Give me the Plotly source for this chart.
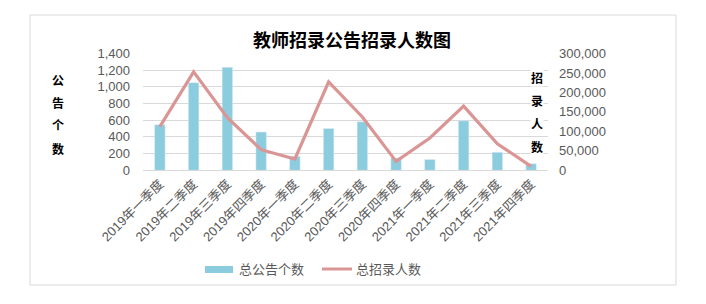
import plotly.graph_objects as go

categories = ["2019年一季度", "2019年二季度", "2019年三季度", "2019年四季度",
              "2020年一季度", "2020年二季度", "2020年三季度", "2020年四季度",
              "2021年一季度", "2021年二季度", "2021年三季度", "2021年四季度"]
notices = [545, 1050, 1235, 458, 167, 501, 582, 148, 128, 593, 215, 80]
hires = [112000, 253000, 135000, 53000, 29000, 227000, 137000, 23000, 83000, 165000, 68000, 10000]

W, H = 706, 304
x0, x1 = 143, 548
y_top, y_bot = 53.5, 170.3

FONT = "Liberation Sans, Noto Sans CJK SC, sans-serif"
CJK = "Noto Sans CJK SC, sans-serif"
BLUE = "#8BCCDE"
RED = "#DA9694"
GRAY = "#595959"

fig = go.Figure()
fig.add_trace(go.Bar(x=categories, y=notices, name="总公告个数", marker_color=BLUE,
                     width=0.31, yaxis="y"))
fig.add_trace(go.Scatter(x=categories, y=hires, name="总招录人数", mode="lines",
                         line=dict(color=RED, width=3.2), yaxis="y2"))

fig.update_layout(
    width=W, height=H,
    margin=dict(l=0, r=0, t=0, b=0, autoexpand=False),
    paper_bgcolor="white", plot_bgcolor="white",
    showlegend=False,
    xaxis=dict(domain=[x0 / W, x1 / W], tickangle=-45, showgrid=False, automargin=False,
               tickfont=dict(family=FONT, size=13, color=GRAY),
               showline=True, linecolor="#D9D9D9", ticks=""),
    yaxis=dict(domain=[1 - y_bot / H, 1 - y_top / H], range=[0, 1400], dtick=200,
               tickformat=",", gridcolor="#D9D9D9", zeroline=False, automargin=False,
               ticklabelstandoff=12,
               tickfont=dict(family=FONT, size=13, color=GRAY), ticks=""),
    yaxis2=dict(overlaying="y", side="right", range=[0, 300000], dtick=50000,
                tickformat=",", showgrid=False, zeroline=False, automargin=False,
                ticklabelstandoff=10,
                tickfont=dict(family=FONT, size=13, color=GRAY), ticks="",
                anchor="x"),
)


def note(text, x, y, size, color, xanchor="center", bg=None):
    fig.add_annotation(text=text, x=x / W, y=1 - y / H, xref="paper", yref="paper",
                       xanchor=xanchor, yanchor="middle", showarrow=False,
                       bgcolor=bg, borderpad=0,
                       font=dict(family=CJK, size=size, color=color))


note("<b>教师招录公告招录人数图</b>", 352, 39, 18, "#000000")

for i, ch in enumerate("公告个数"):
    note("<b>%s</b>" % ch, 58, 79 + 23 * i, 12, "#000000")
for i, ch in enumerate("招录人数"):
    note("<b>%s</b>" % ch, 537, 77 + 23.3 * i, 12, "#000000", bg="white")

# legend
fig.add_shape(type="rect", xref="paper", yref="paper",
              x0=205 / W, x1=233 / W, y0=1 - 273 / H, y1=1 - 266 / H,
              fillcolor=BLUE, line=dict(width=0))
note("总公告个数", 238, 268, 13, GRAY, xanchor="left")
fig.add_shape(type="line", xref="paper", yref="paper",
              x0=322 / W, x1=352 / W, y0=1 - 269 / H, y1=1 - 269 / H,
              line=dict(color=RED, width=3))
note("总招录人数", 355, 268, 13, GRAY, xanchor="left")

fig.add_shape(type="rect", xref="paper", yref="paper",
              x0=30 / W, x1=676 / W, y0=1 - 285 / H, y1=1 - 15 / H,
              line=dict(color="#D9D9D9", width=1), layer="below")

fig.write_html("out.html")
